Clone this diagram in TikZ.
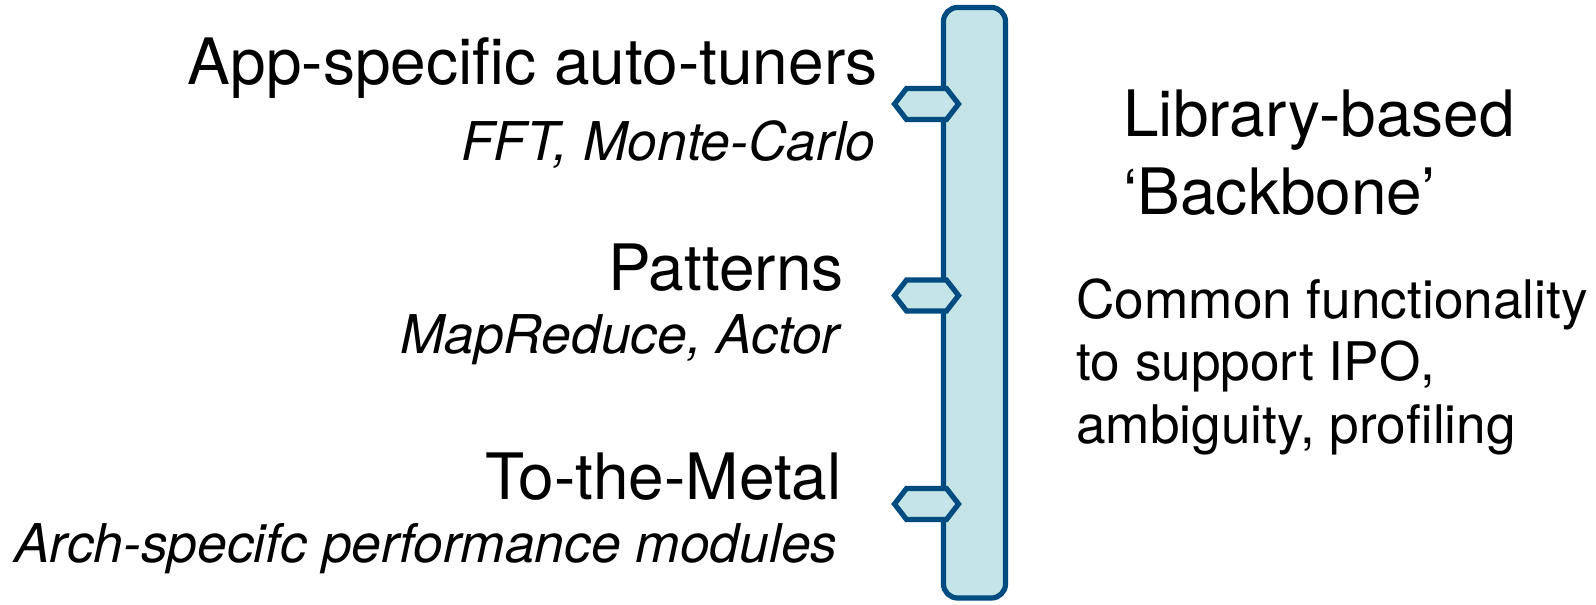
\documentclass[tikz,border=0pt]{standalone}
\usepackage{fontspec}
\setmainfont{TeX Gyre Heros}
\definecolor{barfill}{HTML}{C5E4E8}
\definecolor{barline}{HTML}{004B80}
\begin{document}
\begin{tikzpicture}[x=0.5pt,y=-0.5pt,
  big/.style={inner sep=0pt,font=\fontsize{32}{38}\selectfont},
  small/.style={inner sep=0pt,font=\fontsize{26.7}{31}\selectfont\itshape},
  body/.style={inner sep=0pt,font=\fontsize{26.6}{31}\selectfont},
  backbone/.style={draw=barline,fill=barfill,line width=2.6pt,rounded corners=7pt},
  tab/.style={draw=barline,fill=barfill,line width=2.6pt,line join=miter}]
\useasboundingbox (0,0) rectangle (1596,605);
% backbone bar
\draw[backbone] (943.5,7.5) rectangle (1005.5,598);
% hexagonal tabs
\foreach \n/\y in {t1/104,t2/295.5,t3/504}{
  \coordinate (\n) at (926.5,\y);
  \draw[tab] ([shift={(-32,0)}]\n) -- ([shift={(-20,-15.5)}]\n) -- ([shift={(20,-15.5)}]\n)
     -- ([shift={(32,0)}]\n) -- ([shift={(20,15.5)}]\n) -- ([shift={(-20,15.5)}]\n) -- cycle;
}
% left labels
\node[big,anchor=base east] (app) at (878,84) {App-specific auto-tuners};
\node[small,anchor=base east] (fft) at (876,160) {FFT, Monte-Carlo};
\node[big,anchor=base east] (pat) at (844,290) {Patterns};
\node[small,anchor=base east] (map) at (840,353) {MapReduce, Actor};
\node[big,anchor=base east] (metal) at (842,499) {To-the-Metal};
\node[small,anchor=base east] (arch) at (838,562) {Arch-specifc performance modules};
% right labels
\node[big,anchor=base west] (lib1) at (1123,136) {Library-based};
\node[big,anchor=base west] (lib2) at (1123,214) {‘Backbone’};
\node[body,anchor=base west] (c1) at (1076,318) {Common functionality};
\node[body,anchor=base west] (c2) at (1076,380) {to support IPO,};
\node[body,anchor=base west] (c3) at (1076,443) {ambiguity, profiling};
\end{tikzpicture}
\end{document}
